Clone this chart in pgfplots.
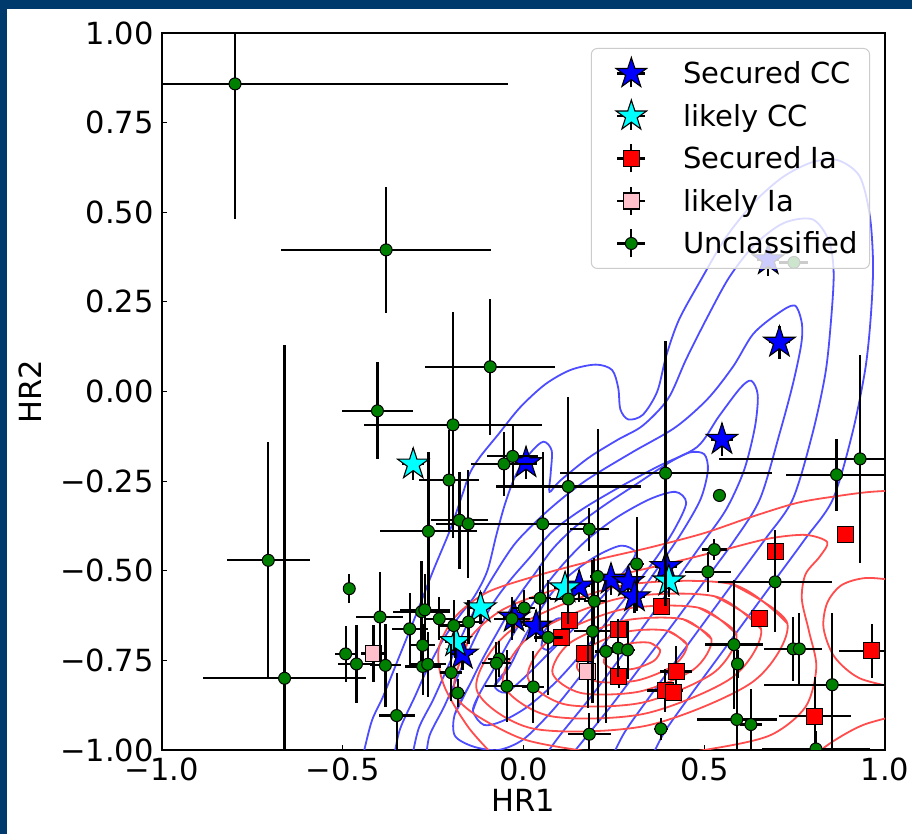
\documentclass[border=0pt]{standalone}
\usepackage{fontspec}
\setmainfont{DejaVu Sans}
\usepackage{pgfplots}
\usepackage{pgfplotstable}
\pgfplotsset{compat=1.18}

\definecolor{slidenavy}{RGB}{0,58,108}
\definecolor{ccline}{RGB}{77,77,255}
\definecolor{ialine}{RGB}{255,77,77}
\definecolor{mgreen}{RGB}{0,128,0}
\definecolor{mpink}{RGB}{255,192,203}
\definecolor{mcyan}{RGB}{0,255,255}
\definecolor{mblue}{RGB}{0,0,255}
\definecolor{mred}{RGB}{255,0,0}

% filled five-pointed star marker
\pgfdeclareplotmark{fstar}{%
  \pgfpathmoveto{\pgfpointpolar{90}{\pgfplotmarksize}}%
  \pgfpathlineto{\pgfpointpolar{126}{0.382\pgfplotmarksize}}%
  \pgfpathlineto{\pgfpointpolar{162}{\pgfplotmarksize}}%
  \pgfpathlineto{\pgfpointpolar{198}{0.382\pgfplotmarksize}}%
  \pgfpathlineto{\pgfpointpolar{234}{\pgfplotmarksize}}%
  \pgfpathlineto{\pgfpointpolar{270}{0.382\pgfplotmarksize}}%
  \pgfpathlineto{\pgfpointpolar{306}{\pgfplotmarksize}}%
  \pgfpathlineto{\pgfpointpolar{342}{0.382\pgfplotmarksize}}%
  \pgfpathlineto{\pgfpointpolar{18}{\pgfplotmarksize}}%
  \pgfpathlineto{\pgfpointpolar{54}{0.382\pgfplotmarksize}}%
  \pgfpathclose
  \pgfusepathqfillstroke
}

% hardness ratios with 1-sigma errors
\pgfplotstableread{
x y ex ey
0.708 0.137 0.03 0.045
0.677 0.367 0.03 0.045
0.549 -0.134 0.03 0.045
0.007 -0.199 0.03 0.045
0.394 -0.489 0.03 0.045
0.242 -0.524 0.03 0.045
0.290 -0.531 0.03 0.045
0.307 -0.573 0.03 0.045
0.154 -0.543 0.03 0.045
-0.026 -0.630 0.03 0.045
0.035 -0.655 0.03 0.045
-0.169 -0.733 0.03 0.045
}\securedcc

\pgfplotstableread{
x y ex ey
-0.305 -0.203 0.03 0.045
-0.119 -0.604 0.03 0.045
-0.188 -0.698 0.03 0.045
0.115 -0.548 0.03 0.045
0.402 -0.529 0.03 0.045
}\likelycc

\pgfplotstableread{
x y ex ey
0.696 -0.446 0.020 0.060
0.891 -0.398 0.020 0.020
0.654 -0.634 0.020 0.020
0.382 -0.599 0.020 0.020
0.262 -0.664 0.020 0.020
0.126 -0.640 0.020 0.020
0.106 -0.687 0.020 0.020
0.168 -0.731 0.020 0.020
0.264 -0.796 0.020 0.030
0.422 -0.781 0.045 0.070
0.392 -0.834 0.050 0.060
0.414 -0.839 0.020 0.020
0.963 -0.723 0.090 0.075
0.806 -0.906 0.100 0.110
}\securedia

\pgfplotstableread{
x y ex ey
-0.415 -0.731 0.035 0.080
0.178 -0.782 0.020 0.100
}\likelyia

\pgfplotstableread{
x y ex ey
-0.798 0.858 0.755 0.378
-0.380 0.395 0.290 0.175
-0.092 0.069 0.180 0.190
-0.195 -0.093 0.245 0.315
-0.404 -0.054 0.097 0.135
-0.706 -0.471 0.115 0.330
-0.661 -0.800 0.225 0.930
-0.482 -0.550 0.015 0.040
-0.206 -0.247 0.083 0.140
-0.177 -0.359 0.080 0.135
-0.153 -0.369 0.090 0.150
-0.263 -0.390 0.134 0.220
-0.054 -0.202 0.090 0.090
-0.030 -0.181 0.070 0.085
0.053 -0.369 0.140 0.200
0.124 -0.265 0.200 0.250
0.182 -0.384 0.054 0.060
0.393 -0.228 0.293 0.370
0.313 -0.481 0.020 0.130
0.205 -0.516 0.020 0.410
0.542 -0.290 0.010 0.010
0.866 -0.232 0.140 0.100
0.931 -0.188 0.390 0.290
0.528 -0.441 0.035 0.030
0.510 -0.503 0.064 0.056
0.696 -0.531 0.157 0.140
0.228 -0.725 0.030 0.200
0.262 -0.716 0.020 0.080
0.288 -0.721 0.020 0.080
0.380 -0.941 0.020 0.030
0.582 -0.706 0.080 0.180
0.592 -0.760 0.010 0.040
0.746 -0.718 0.080 0.090
0.763 -0.718 0.040 0.100
0.854 -0.818 0.190 0.200
0.590 -0.915 0.110 0.130
0.629 -0.929 0.030 0.100
0.809 -0.997 0.150 0.050
-0.397 -0.629 0.065 0.125
-0.492 -0.732 0.030 0.077
-0.462 -0.760 0.050 0.110
-0.382 -0.764 0.042 0.115
-0.351 -0.904 0.050 0.120
-0.315 -0.662 0.050 0.100
-0.282 -0.614 0.080 0.140
-0.273 -0.609 0.070 0.100
-0.233 -0.634 0.037 0.060
-0.279 -0.708 0.035 0.060
-0.279 -0.767 0.050 0.080
-0.265 -0.761 0.050 0.090
-0.193 -0.653 0.040 0.070
-0.152 -0.643 0.040 0.060
-0.200 -0.784 0.030 0.080
-0.182 -0.841 0.020 0.040
-0.067 -0.746 0.030 0.050
-0.075 -0.758 0.040 0.060
-0.046 -0.822 0.060 0.100
0.027 -0.824 0.030 0.100
-0.032 -0.634 0.050 0.060
0.002 -0.604 0.030 0.050
0.046 -0.577 0.030 0.090
0.068 -0.686 0.040 0.160
0.124 -0.579 0.050 0.070
0.196 -0.585 0.030 0.120
0.191 -0.669 0.050 0.200
0.182 -0.956 0.060 0.060
0.748 0.360 0.040 0.010
}\unclassified

\pgfplotsset{
  hrbars/.style={
    error bars/.cd,
      x dir=both, x explicit, y dir=both, y explicit,
      error mark=none,
      error bar style={black, line width=2.2pt, solid},
  },
  cccont/.style={forget plot, no markers, smooth, color=ccline, line width=1.8pt},
  iacont/.style={forget plot, no markers, smooth, color=ialine, line width=1.8pt},
}

% error cross behind each legend marker
\newcommand{\legcross}{%
  \path[draw=none, fill=none] (-29pt,-18pt) rectangle (51pt,18pt);
  \draw[black, line width=2.2pt, draw opacity=1, sharp corners] (-14pt,0pt) -- (14pt,0pt) (0pt,-14pt) -- (0pt,14pt);
}

\begin{document}
\begin{tikzpicture}
\useasboundingbox (0,0) rectangle (912pt,834pt);
\fill[white] (0,0) rectangle (912pt,834pt);
\fill[slidenavy] (0,825pt) rectangle (912pt,834pt);
\fill[slidenavy] (0,0) rectangle (7pt,834pt);
\begin{axis}[
  at={(162pt,84pt)}, anchor=south west,
  scale only axis, width=723pt, height=717pt,
  xmin=-1, xmax=1, ymin=-1, ymax=1,
  xtick={-1,-0.5,0,0.5,1},
  xticklabels={−1.0,−0.5,0.0,0.5,1.0},
  ytick={-1,-0.75,-0.5,-0.25,0,0.25,0.5,0.75,1},
  yticklabels={−1.00,−0.75,−0.50,−0.25,0.00,0.25,0.50,0.75,1.00},
  tick align=inside, major tick length=5pt,
  xtick pos=left, ytick pos=left,
  tick style={black, line width=1pt},
  axis line style={black, line width=1.2pt},
  tick label style={font=\fontsize{30.5}{36}\selectfont, inner sep=0pt},
  xticklabel style={yshift=-8pt},
  yticklabel style={xshift=-8pt},
  label style={font=\fontsize{30.5}{36}\selectfont},
  xlabel={HR1}, ylabel={HR2},
  xlabel style={at={(axis description cs:0.5,-0.07)}, anchor=center},
  ylabel style={at={(axis description cs:-0.183,0.5)}, anchor=center},
  clip marker paths=true,
  legend cell align=left,
  legend style={
    at={(1,1)}, anchor=north east, xshift=-15pt, yshift=-15pt,
    draw=black!20, line width=1pt, rounded corners=6pt,
    fill=white, fill opacity=0.8, draw opacity=1, text opacity=1,
    inner xsep=11pt, inner ysep=7pt, row sep=6.5pt,
    nodes={inner sep=1pt},
    font=\fontsize{29}{34}\selectfont,
  },
]

% ---- core-collapse density contours ----
\addplot[cccont] coordinates {
(-0.445,-1.02) (-0.42,-0.92) (-0.389,-0.852) (-0.34,-0.73) (-0.295,-0.617)
(-0.25,-0.50) (-0.203,-0.386) (-0.17,-0.29) (-0.148,-0.227) (-0.12,-0.182)
(-0.07,-0.12) (-0.01,-0.045) (0.06,0.02) (0.13,0.06) (0.20,0.075)
(0.245,0.06) (0.262,0.01) (0.268,-0.05) (0.29,-0.078) (0.33,-0.065)
(0.37,0.0) (0.395,0.10) (0.43,0.20) (0.49,0.31) (0.56,0.43)
(0.64,0.53) (0.72,0.60) (0.80,0.64) (0.87,0.645) (0.93,0.60)
(0.958,0.49) (0.967,0.35) (0.96,0.20) (0.945,0.06) (0.91,-0.115)
(0.856,-0.30) (0.78,-0.41) (0.70,-0.52) (0.62,-0.63) (0.54,-0.74)
(0.46,-0.85) (0.39,-0.95) (0.35,-1.03)
};
\addplot[cccont] coordinates {
(-0.36,-1.03) (-0.342,-0.943) (-0.30,-0.85) (-0.267,-0.776) (-0.223,-0.693)
(-0.18,-0.63) (-0.135,-0.57) (-0.10,-0.50) (-0.075,-0.40) (-0.05,-0.31)
(-0.02,-0.23) (0.02,-0.17) (0.055,-0.14) (0.078,-0.165) (0.075,-0.23)
(0.072,-0.28) (0.10,-0.25) (0.18,-0.185) (0.26,-0.135) (0.33,-0.095)
(0.40,-0.02) (0.45,0.09) (0.51,0.21) (0.57,0.32) (0.64,0.41)
(0.72,0.47) (0.80,0.48) (0.845,0.42) (0.858,0.33) (0.85,0.19)
(0.835,0.05) (0.80,-0.115) (0.745,-0.30) (0.67,-0.41) (0.59,-0.52)
(0.51,-0.63) (0.43,-0.74) (0.35,-0.85) (0.28,-0.95) (0.24,-1.03)
};
\addplot[cccont] coordinates {
(-0.31,-1.03) (-0.29,-0.94) (-0.25,-0.86) (-0.21,-0.77) (-0.17,-0.68)
(-0.12,-0.58) (-0.08,-0.51) (-0.02,-0.42) (0.07,-0.33) (0.17,-0.25)
(0.30,-0.17) (0.42,-0.10) (0.51,-0.02) (0.58,0.07) (0.635,0.16)
(0.70,0.215) (0.75,0.24) (0.77,0.19) (0.768,0.13) (0.745,0.02)
(0.709,-0.115) (0.654,-0.30) (0.58,-0.42) (0.50,-0.53) (0.42,-0.64)
(0.33,-0.76) (0.24,-0.88) (0.16,-0.98) (0.12,-1.03)
};
\addplot[cccont] coordinates {
(-0.27,-1.03) (-0.26,-0.96) (-0.22,-0.88) (-0.18,-0.79) (-0.14,-0.70)
(-0.09,-0.60) (-0.04,-0.53) (0.02,-0.46) (0.08,-0.39) (0.16,-0.33)
(0.26,-0.27) (0.37,-0.21) (0.48,-0.155) (0.54,-0.07) (0.60,0.01)
(0.63,0.03) (0.648,-0.01) (0.64,-0.10) (0.61,-0.22) (0.56,-0.33)
(0.49,-0.43) (0.42,-0.53) (0.35,-0.63) (0.27,-0.74) (0.18,-0.86)
(0.10,-0.96) (0.05,-1.03)
};
\addplot[cccont] coordinates {
(-0.19,-0.90) (-0.15,-0.82) (-0.11,-0.74) (-0.06,-0.65) (-0.02,-0.58)
(0.03,-0.51) (0.08,-0.44) (0.14,-0.38) (0.22,-0.32) (0.31,-0.26)
(0.40,-0.20) (0.46,-0.17) (0.50,-0.175) (0.51,-0.22) (0.49,-0.30)
(0.44,-0.39) (0.38,-0.48) (0.31,-0.58) (0.24,-0.68) (0.16,-0.79)
(0.08,-0.89) (0.0,-0.97) (-0.07,-1.0) (-0.14,-0.99) (-0.19,-0.96)
(-0.19,-0.90) (-0.15,-0.82)
};
\addplot[cccont] coordinates {
(-0.14,-0.89) (-0.12,-0.84) (-0.08,-0.77) (-0.03,-0.68) (0.02,-0.60)
(0.07,-0.53) (0.12,-0.47) (0.18,-0.41) (0.26,-0.35) (0.35,-0.30)
(0.42,-0.28) (0.45,-0.31) (0.42,-0.38) (0.37,-0.46) (0.31,-0.54)
(0.24,-0.63) (0.17,-0.72) (0.09,-0.81) (0.01,-0.88) (-0.06,-0.92)
(-0.11,-0.93) (-0.14,-0.89) (-0.12,-0.84)
};
\addplot[cccont] coordinates {
(-0.08,-0.82) (-0.04,-0.77) (0.0,-0.69) (0.04,-0.62) (0.08,-0.56)
(0.13,-0.51) (0.20,-0.46) (0.27,-0.43) (0.31,-0.45) (0.28,-0.50)
(0.22,-0.57) (0.15,-0.65) (0.07,-0.73) (0.0,-0.80) (-0.05,-0.84)
(-0.08,-0.82) (-0.04,-0.77)
};
\addplot[cccont] coordinates {
(0.05,-0.71) (0.06,-0.665) (0.09,-0.635) (0.115,-0.635) (0.12,-0.655)
(0.10,-0.69) (0.07,-0.72) (0.05,-0.71) (0.06,-0.665)
};

% ---- type Ia density contours ----
\addplot[iacont] coordinates {
(0.378,-0.721) (0.350,-0.701) (0.293,-0.703) (0.239,-0.725) (0.222,-0.755)
(0.250,-0.775) (0.307,-0.773) (0.361,-0.751) (0.378,-0.721) (0.350,-0.701)
};
\addplot[iacont] coordinates {
(0.452,-0.706) (0.397,-0.667) (0.286,-0.670) (0.183,-0.713) (0.148,-0.770)
(0.203,-0.809) (0.315,-0.806) (0.417,-0.763) (0.452,-0.706) (0.397,-0.667)
};
\addplot[iacont] coordinates {
(0.520,-0.691) (0.441,-0.635) (0.279,-0.639) (0.129,-0.701) (0.080,-0.785)
(0.159,-0.841) (0.321,-0.837) (0.471,-0.775) (0.520,-0.691) (0.441,-0.635)
};
\addplot[iacont] coordinates {
(0.589,-0.677) (0.484,-0.603) (0.272,-0.608) (0.076,-0.690) (0.012,-0.799)
(0.116,-0.873) (0.328,-0.868) (0.524,-0.786) (0.589,-0.677) (0.484,-0.603)
};
\addplot[iacont] coordinates {
(0.657,-0.662) (0.528,-0.571) (0.266,-0.577) (0.023,-0.678) (-0.057,-0.814)
(0.072,-0.905) (0.334,-0.899) (0.577,-0.798) (0.657,-0.662) (0.528,-0.571)
};
\addplot[iacont] coordinates {
(0.730,-0.647) (0.575,-0.537) (0.259,-0.544) (-0.034,-0.666) (-0.130,-0.830)
(0.025,-0.940) (0.341,-0.932) (0.634,-0.810) (0.730,-0.647) (0.575,-0.537)
};
\addplot[iacont] coordinates {
(-0.19,-0.80) (-0.15,-0.69) (-0.06,-0.61) (0.08,-0.555) (0.25,-0.515)
(0.42,-0.475) (0.56,-0.44) (0.68,-0.41) (0.78,-0.40) (0.84,-0.42)
(0.82,-0.46) (0.78,-0.51) (0.77,-0.58) (0.79,-0.67) (0.81,-0.77)
(0.78,-0.88) (0.68,-0.96) (0.50,-1.00) (0.32,-1.02) (0.15,-1.00)
(0.0,-0.97) (-0.12,-0.91) (-0.18,-0.86) (-0.19,-0.80) (-0.15,-0.69)
};
\addplot[iacont] coordinates {
(-0.05,-1.05) (-0.15,-0.94) (-0.22,-0.82) (-0.235,-0.72) (-0.19,-0.63)
(-0.10,-0.56) (0.05,-0.51) (0.20,-0.47) (0.35,-0.435) (0.50,-0.395)
(0.63,-0.35) (0.76,-0.31) (0.88,-0.29) (0.96,-0.28) (1.05,-0.275)
};
\addplot[iacont] coordinates {
(1.05,-0.53) (0.95,-0.52) (0.88,-0.54) (0.84,-0.59) (0.83,-0.66)
(0.86,-0.74) (0.93,-0.80) (1.05,-0.83)
};
\addplot[iacont] coordinates {
(0.76,-1.05) (0.85,-0.98) (0.94,-0.93) (1.05,-0.90)
};

% ---- sources ----
\addplot[forget plot, only marks, mark=fstar, mark size=16.5pt,
  mark options={fill=mblue, draw=black, line width=1.1pt}, hrbars]
  table[x=x, y=y, x error=ex, y error=ey] {\securedcc};
\addplot[forget plot, only marks, mark=fstar, mark size=16.5pt,
  mark options={fill=mcyan, draw=black, line width=1.1pt}, hrbars]
  table[x=x, y=y, x error=ex, y error=ey] {\likelycc};
\addplot[forget plot, only marks, mark=square*, mark size=8pt,
  mark options={fill=mred, draw=black, line width=1.1pt}, hrbars]
  table[x=x, y=y, x error=ex, y error=ey] {\securedia};
\addplot[forget plot, only marks, mark=square*, mark size=8pt,
  mark options={fill=mpink, draw=black, line width=1.1pt}, hrbars]
  table[x=x, y=y, x error=ex, y error=ey] {\likelyia};
\addplot[forget plot, only marks, mark=*, mark size=6pt,
  mark options={fill=mgreen, draw=black, line width=1pt}, hrbars]
  table[x=x, y=y, x error=ex, y error=ey] {\unclassified};

% ---- legend ----
\addlegendimage{legend image code/.code={\legcross
  \draw[fill opacity=1, draw opacity=1, sharp corners, fill=mblue, draw=black, line width=1.1pt]
    plot[mark=fstar, mark size=16pt] coordinates {(0pt,0pt)};}}
\addlegendentry{Secured CC}
\addlegendimage{legend image code/.code={\legcross
  \draw[fill opacity=1, draw opacity=1, sharp corners, fill=mcyan, draw=black, line width=1.1pt]
    plot[mark=fstar, mark size=16pt] coordinates {(0pt,0pt)};}}
\addlegendentry{likely CC}
\addlegendimage{legend image code/.code={\legcross
  \draw[fill opacity=1, draw opacity=1, sharp corners, fill=mred, draw=black, line width=1.1pt]
    plot[mark=square*, mark size=8pt] coordinates {(0pt,0pt)};}}
\addlegendentry{Secured Ia}
\addlegendimage{legend image code/.code={\legcross
  \draw[fill opacity=1, draw opacity=1, sharp corners, fill=mpink, draw=black, line width=1.1pt]
    plot[mark=square*, mark size=8pt] coordinates {(0pt,0pt)};}}
\addlegendentry{likely Ia}
\addlegendimage{legend image code/.code={\legcross
  \draw[fill opacity=1, draw opacity=1, sharp corners, fill=mgreen, draw=black, line width=1pt]
    plot[mark=*, mark size=6pt] coordinates {(0pt,0pt)};}}
\addlegendentry{Unclassified}
\end{axis}
\end{tikzpicture}
\end{document}
